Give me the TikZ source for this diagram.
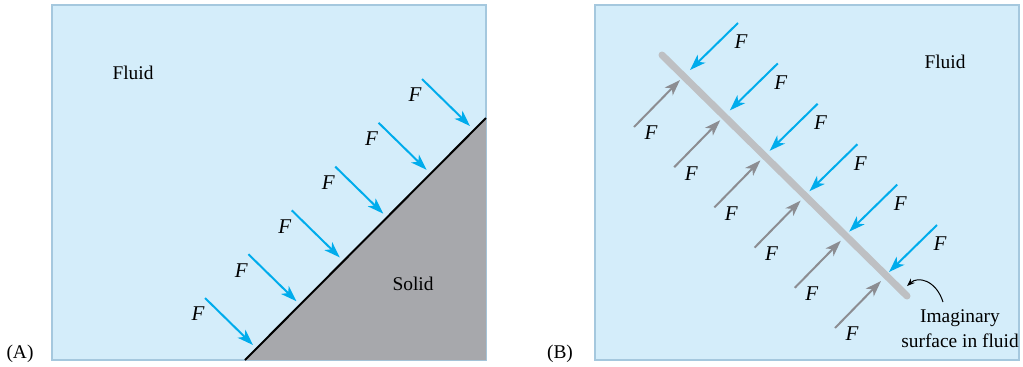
\documentclass[tikz,border=0pt]{standalone}
\usepackage{fontspec}
\setmainfont{Liberation Serif}
\usetikzlibrary{arrows.meta,calc}
\definecolor{fluid}{RGB}{212,237,250}
\definecolor{fluidedge}{RGB}{165,200,222}
\definecolor{solidgray}{RGB}{167,168,172}
\definecolor{forceblue}{RGB}{0,172,236}
\definecolor{forcegray}{RGB}{140,141,146}
\definecolor{barcol}{RGB}{190,192,195}
\tikzset{
  fluidbox/.style={draw=fluidedge,fill=fluid,line width=0.75pt},
  fblue/.style={draw=forceblue,line width=1pt,-{Stealth[length=8pt,width=5.5pt,inset=2.2pt]}},
  fgray/.style={draw=forcegray,line width=1pt,-{Stealth[length=8pt,width=5.5pt,inset=2.2pt]}},
  flabel/.style={inner sep=0pt,font=\fontsize{10.5}{12}\selectfont\itshape},
  txt/.style={inner sep=0pt},
}
\begin{document}
\begin{tikzpicture}[x=0.5pt,y=-0.5pt,font=\fontsize{9.7}{12.5}\selectfont]
  \useasboundingbox (0,0) rectangle (1023,366);
  % panel A
  \draw[fluidbox] (52,5) rectangle (486,360);
  \coordinate (toe) at (245,360);
  \coordinate (top) at (486,118);
  \fill[solidgray] (toe) -- (top) -- (486,360) -- cycle;
  \draw[line width=1pt] (toe) -- (top);
  \foreach \i in {0,...,5} {
    \coordinate (a\i) at ({205+43.4*\i},{298-43.8*\i});
    \coordinate (ae\i) at ($(a\i)+(48,47)$);
    \draw[fblue] (a\i) -- (ae\i);
    \node[flabel] (fa\i) at ($(a\i)+(-7,16)$) {F};
  }
  \node[txt] (fluidA) at (133,73) {Fluid};
  \node[txt] (solid) at (413,284) {Solid};
  \node[txt] (labA) at (20,354) {(A)};
  % panel B
  \draw[fluidbox] (595,5) rectangle (1019,360);
  \coordinate (s0) at (662,55);
  \coordinate (s1) at (907,296);
  \draw[barcol,line width=3.5pt,line cap=round] (s0) -- (s1);
  \foreach \i in {0,...,5} {
    \coordinate (b\i) at ({738+39.8*\i},{23+40.4*\i});
    \coordinate (be\i) at ($(b\i)+(-48,47)$);
    \draw[fblue] (b\i) -- (be\i);
    \node[flabel] (fb\i) at ($(b\i)+(3,19)$) {F};
    \coordinate (g\i) at ({634+40.2*\i},{127+40.2*\i});
    \coordinate (ge\i) at ($(g\i)+(46,-47)$);
    \draw[fgray] (g\i) -- (ge\i);
    \node[flabel] (fg\i) at ($(g\i)+(17,6)$) {F};
  }
  \node[txt] (fluidB) at (945,62) {Fluid};
  \node[txt,align=center] (imag) at (960,329) {Imaginary\\surface in fluid};
  \coordinate (ctail) at (943,302);
  \coordinate (ctip) at (907,286);
  \draw[line width=0.5pt,-{Stealth[length=4pt,width=3pt]}] (ctail) .. controls (936,280) and (918,276) .. (ctip);
  \node[txt] (labB) at (560,354) {(B)};
\end{tikzpicture}
\end{document}
